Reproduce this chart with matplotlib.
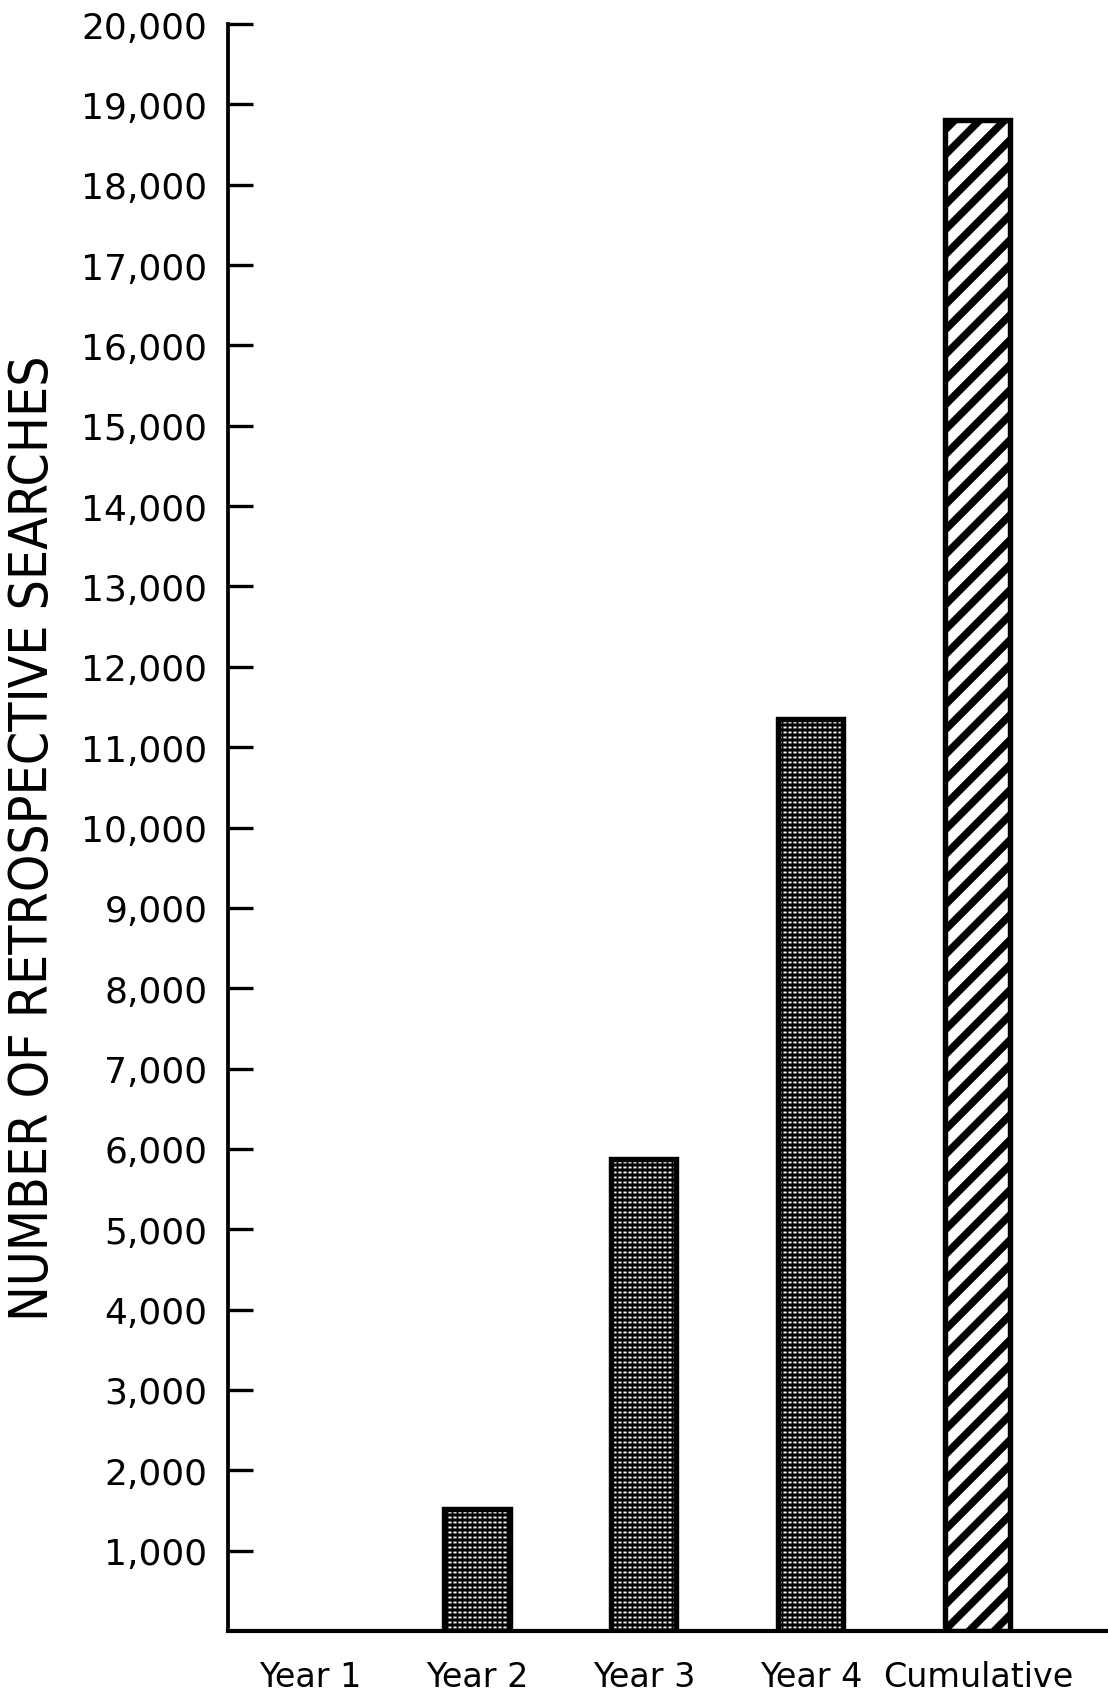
import matplotlib
matplotlib.use("Agg")
import matplotlib.pyplot as plt
from matplotlib import font_manager

# values
categories = ["Year 1", "Year 2", "Year 3", "Year 4", "Cumulative"]
searches = [0, 1520, 5880, 11350, 18800]
ytick_vals = list(range(1000, 20001, 1000))
ytick_labels = [f"{v:,}" for v in ytick_vals]

plt.rcParams['font.family'] = ['DejaVu Sans']

# dpi 150 so the hatch tile is large enough for the wide stripes of the original
DPI = 150
fig = plt.figure(figsize=(1108 / DPI, 1702 / DPI), dpi=DPI)
ax = fig.add_axes([0.206, 0.0411, 0.794, 0.9442])

pos = list(range(len(categories)))
yearly_pos = pos[:4]
yearly_val = searches[:4]
w = 0.39


def hatch_lw(bars, lw):
    for p in bars:
        if hasattr(p, "set_hatch_linewidth"):
            p.set_hatch_linewidth(lw)


# stippled yearly bars: black fill, white rows, black columns
with plt.rc_context({'hatch.linewidth': 0.9}):
    b1 = ax.bar(yearly_pos, yearly_val, width=w, color="black", edgecolor="white",
                hatch="-----", linewidth=0, zorder=2)
    b2 = ax.bar(yearly_pos, yearly_val, width=w, fill=False, edgecolor="black",
                hatch="|||||", linewidth=0, zorder=3)
hatch_lw(b1, 0.9)
hatch_lw(b2, 0.9)

# cumulative bar with heavy diagonal stripes
with plt.rc_context({'hatch.linewidth': 3.6}):
    b3 = ax.bar(pos[4], searches[4], width=w, color="white", edgecolor="black",
                hatch="//", linewidth=0, zorder=2)
hatch_lw(b3, 3.6)

# outlines
ax.bar(pos[1:], searches[1:], width=w, fill=False, edgecolor="black",
       linewidth=2.6, zorder=4)

ax.set_xlim(-0.49, 4.78)
ax.set_ylim(0, 20000)

ax.set_yticks(ytick_vals)
ax.set_yticklabels(ytick_labels, fontsize=17.3)
ax.tick_params(axis="y", direction="in", length=12, width=1.6, pad=10)

ax.set_xticks(pos)
ax.set_xticklabels(categories, fontsize=16)
ax.tick_params(axis="x", length=0, pad=14)

for s in ["top", "right"]:
    ax.spines[s].set_visible(False)
ax.spines["left"].set_linewidth(1.8)
ax.spines["bottom"].set_linewidth(2.0)

# narrow lettering for the axis title if a condensed sans is installed
narrow = None
for f in font_manager.fontManager.ttflist:
    if f.style != "normal" or f.weight not in ("normal", 400, "regular", "book"):
        continue
    if "Mono" in f.name or "Serif" in f.name:
        continue
    if f.stretch in ("condensed", "semi-condensed") or "Narrow" in f.name or "Condensed" in f.name:
        narrow = f.fname
        break

if narrow:
    title_font = font_manager.FontProperties(fname=narrow, size=25.5)
else:
    title_font = font_manager.FontProperties(family="DejaVu Sans", size=23.2)

fig.text(0.030, 0.5076, "NUMBER OF RETROSPECTIVE SEARCHES", rotation=90,
         ha="center", va="center", fontproperties=title_font)

fig.savefig("out.png", dpi=DPI)
